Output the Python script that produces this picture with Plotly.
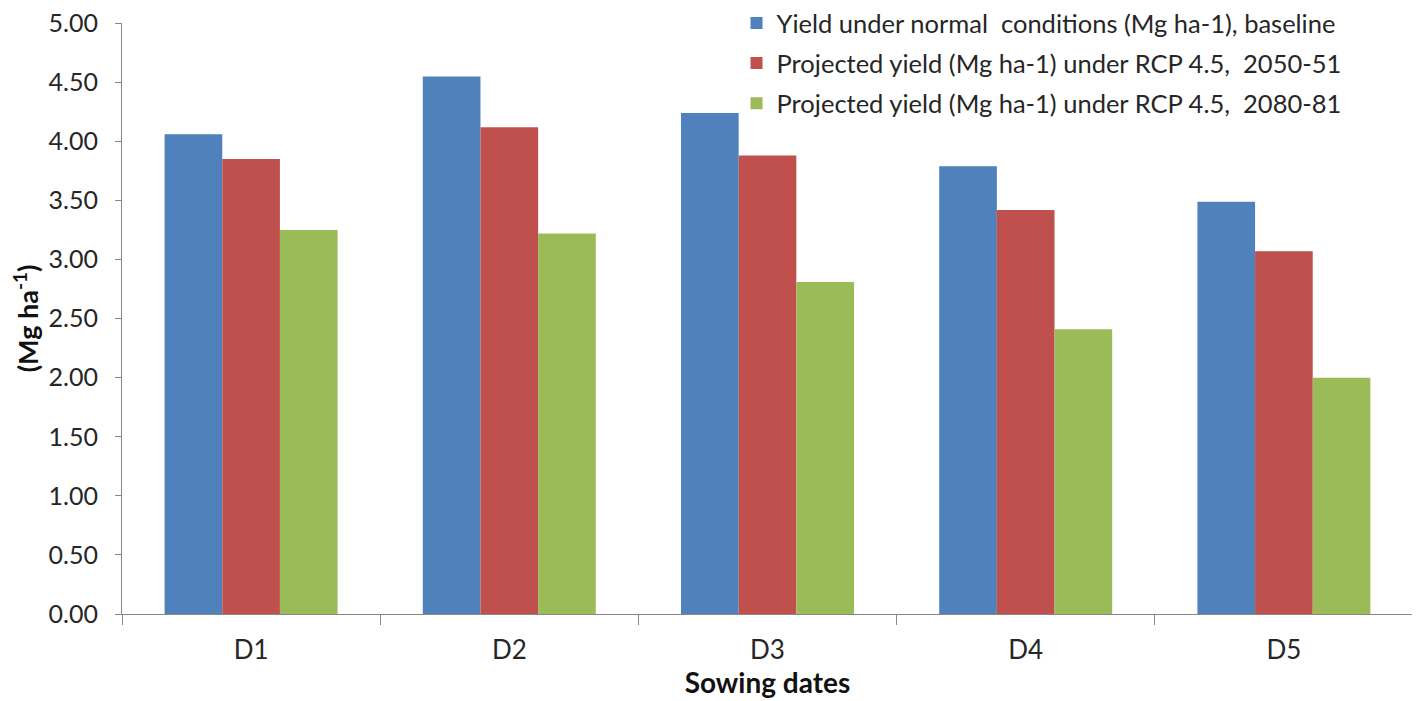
import plotly.graph_objects as go

dates = ["D1", "D2", "D3", "D4", "D5"]
baseline = [4.06, 4.55, 4.24, 3.79, 3.49]
rcp45_2050 = [3.85, 4.12, 3.88, 3.42, 3.07]
rcp45_2080 = [3.25, 3.22, 2.81, 2.41, 2.00]

names = [
    "Yield under normal  conditions (Mg ha-1), baseline",
    "Projected yield (Mg ha-1) under RCP 4.5,  2050-51",
    "Projected yield (Mg ha-1) under RCP 4.5,  2080-81",
]
colors = ["#4F81BD", "#C0504D", "#9BBB59"]

font = "Lato, 'Open Sans', sans-serif"

fig = go.Figure()
for i, (vals, name, col) in enumerate(zip([baseline, rcp45_2050, rcp45_2080], names, colors)):
    fig.add_trace(go.Bar(x=dates, y=vals, name=name, marker_color=col,
                         marker_line_width=0, legendgroup=str(i)))

# page body adds an 8px offset, margins compensate for it
fig.update_layout(
    width=1420, height=701,
    plot_bgcolor="white", paper_bgcolor="white",
    margin=dict(l=114, r=15, t=15, b=95, autoexpand=False),
    barmode="group", bargap=0.33, bargroupgap=0,
    font=dict(family=font, size=25, color="#262626"),
    legend=dict(x=0.476, y=0.921, xanchor="left", yanchor="middle", yref="container",
                bgcolor="rgba(0,0,0,0)", font=dict(size=25.5, color="#262626"),
                tracegroupgap=4, traceorder="grouped"),
    xaxis=dict(
        title=dict(text="<b>Sowing dates</b>", font=dict(size=28, color="#111"), standoff=0),
        showline=True, linecolor="#888", linewidth=1,
        ticks="outside", tickson="boundaries", ticklen=10, tickcolor="#888",
        tickfont=dict(size=26),
        ticklabelstandoff=13, showgrid=False, automargin=False,
    ),
    yaxis=dict(
        title=dict(text="<b>(Mg ha<sup>-1</sup>)</b>", font=dict(size=27, color="#111"), standoff=12),
        range=[0, 5.002], tick0=0, dtick=0.5, tickformat=".2f",
        showline=True, linecolor="#888", linewidth=1,
        ticks="outside", ticklen=6, tickcolor="#888",
        ticklabelstandoff=12, ticklabeloverflow="allow",
        showgrid=False, zeroline=False, automargin=False,
    ),
)

fig.write_html("out.html")
